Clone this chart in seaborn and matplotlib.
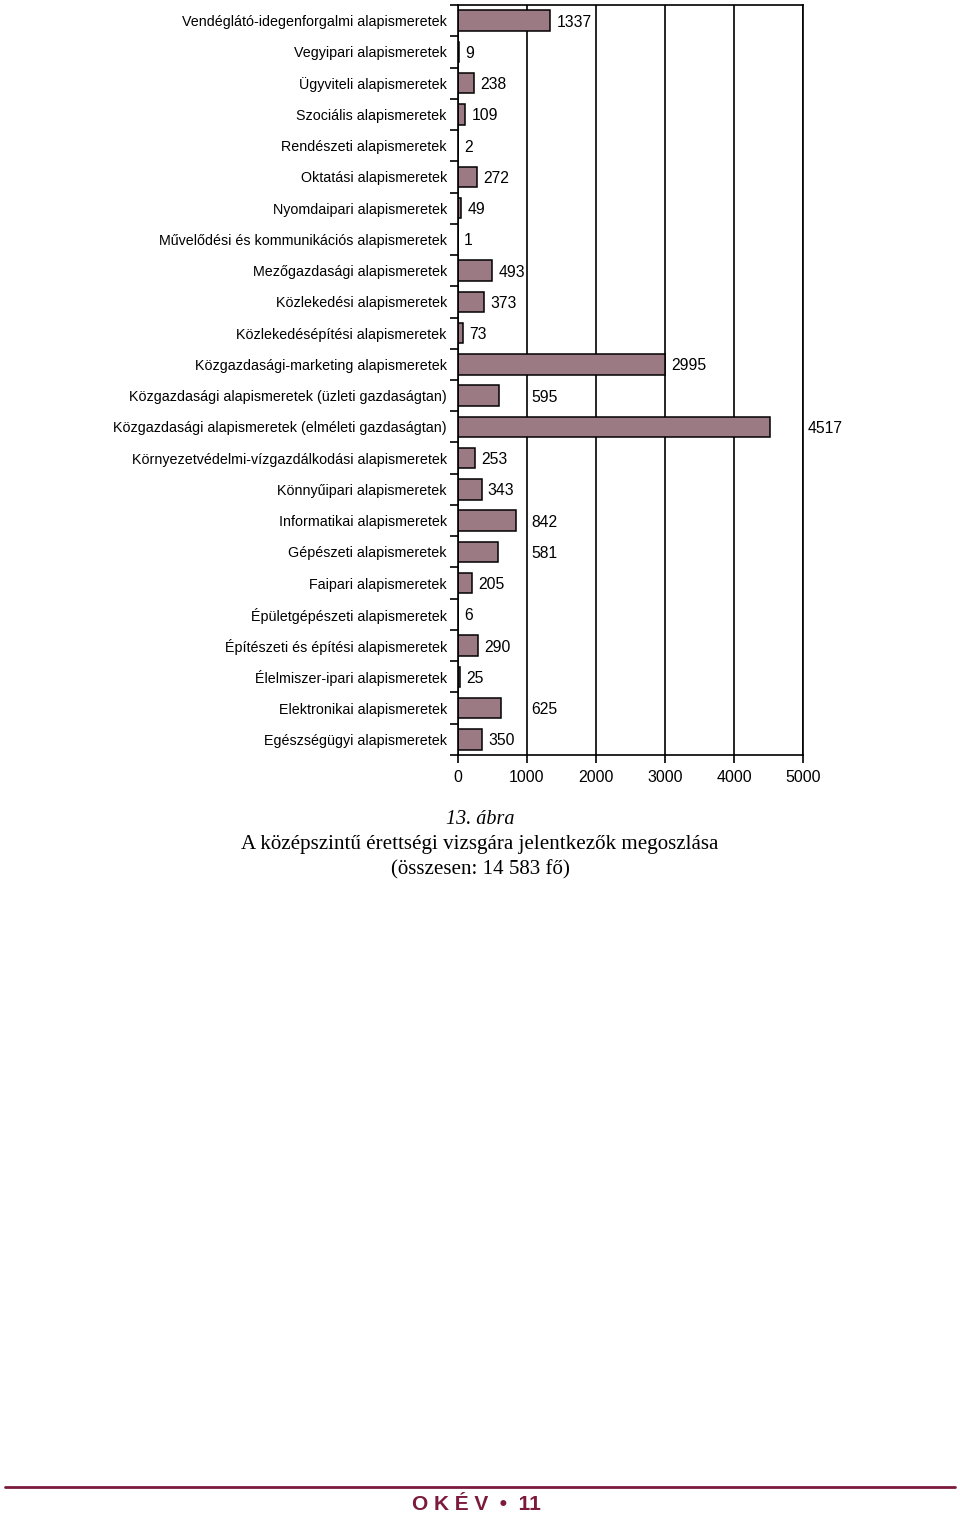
import numpy as np
import pandas as pd
import seaborn as sns
from matplotlib import pyplot as plt
from matplotlib.ticker import FixedLocator

categories = [
    'Vendéglátó-idegenforgalmi alapismeretek',
    'Vegyipari alapismeretek',
    'Ügyviteli alapismeretek',
    'Szociális alapismeretek',
    'Rendészeti alapismeretek',
    'Oktatási alapismeretek',
    'Nyomdaipari alapismeretek',
    'Művelődési és kommunikációs alapismeretek',
    'Mezőgazdasági alapismeretek',
    'Közlekedési alapismeretek',
    'Közlekedésépítési alapismeretek',
    'Közgazdasági-marketing alapismeretek',
    'Közgazdasági alapismeretek (üzleti gazdaságtan)',
    'Közgazdasági alapismeretek (elméleti gazdaságtan)',
    'Környezetvédelmi-vízgazdálkodási alapismeretek',
    'Könnyűipari alapismeretek',
    'Informatikai alapismeretek',
    'Gépészeti alapismeretek',
    'Faipari alapismeretek',
    'Épületgépészeti alapismeretek',
    'Építészeti és építési alapismeretek',
    'Élelmiszer-ipari alapismeretek',
    'Elektronikai alapismeretek',
    'Egészségügyi alapismeretek',
]
counts = [1337, 9, 238, 109, 2, 272, 49, 1, 493, 373, 73, 2995,
          595, 4517, 253, 343, 842, 581, 205, 6, 290, 25, 625, 350]
x_ticks = [0, 1000, 2000, 3000, 4000, 5000]

caption_num = '13. ábra'
caption_title = 'A középszintű érettségi vizsgára jelentkezők megoszlása'
caption_total = '(összesen: 14 583 fő)'
footer = 'O K É V  •  11'

sns.set_style('white')
plt.rcParams['font.family'] = ['Liberation Sans Narrow', 'Liberation Sans', 'DejaVu Sans']
plt.rcParams['text.color'] = 'black'
plt.rcParams['xtick.color'] = 'black'
plt.rcParams['ytick.color'] = 'black'

df = pd.DataFrame({'cat': categories, 'n': counts})

fig = plt.figure(figsize=(9.6, 15.2), dpi=100)
ax = fig.add_axes([0.477, 0.5033, 0.3595, 0.4934])

sns.barplot(data=df, x='n', y='cat', orient='h', color='#9b7a84',
            edgecolor='black', linewidth=1.1, width=0.66, saturation=1, ax=ax)

ax.set_xlim(0, 5000)
ax.set_xticks(x_ticks)
ax.set_xlabel('')
ax.set_ylabel('')
ax.grid(axis='x', color='black', linewidth=1.2)
ax.set_axisbelow(True)
for s in ax.spines.values():
    s.set_color('black')
    s.set_linewidth(1.2)

# ticks at category boundaries on the y axis
n = len(categories)
ax.yaxis.set_minor_locator(FixedLocator(np.arange(-0.5, n, 1)))
ax.tick_params(axis='y', which='major', length=0, pad=8, labelsize=10.3)
ax.tick_params(axis='y', which='minor', length=6, width=1.2, left=True)
ax.tick_params(axis='x', which='major', length=6, width=1.2, bottom=True,
               labelsize=11.5, pad=5)
ax.set_ylim(n - 0.5, -0.5)

# value labels: right of the bar, pushed past a gridline if they would cross it
char_w = 110
pad = 90
for i, v in enumerate(counts):
    start = v + pad
    end = start + char_w * len(str(v))
    for g in x_ticks[1:]:
        if start < g + 40 and end > g:
            start = g + 60
    ax.text(start, i + 0.05, str(v), va='center', ha='left', fontsize=11.3,
            clip_on=False)

serif = ['Liberation Serif', 'DejaVu Serif']
fig.text(0.5, 1 - 820 / 1520, caption_num, ha='center', va='center',
         fontsize=14.5, style='italic', family=serif)
fig.text(0.5, 1 - 845 / 1520, caption_title, ha='center', va='center',
         fontsize=15.1, family=serif)
fig.text(0.5, 1 - 870 / 1520, caption_total, ha='center', va='center',
         fontsize=15.1, family=serif)

footer_col = '#7b1a3c'
fig.add_artist(plt.Line2D([5 / 960, 955 / 960], [1 - 1487 / 1520] * 2,
                          color=footer_col, linewidth=2))
fig.text(412 / 960, 1 - 1504 / 1520, footer, ha='left', va='center',
         fontsize=15, fontweight='bold', color=footer_col,
         family=['Liberation Sans', 'DejaVu Sans'])

fig.savefig('out.png', dpi=100)
